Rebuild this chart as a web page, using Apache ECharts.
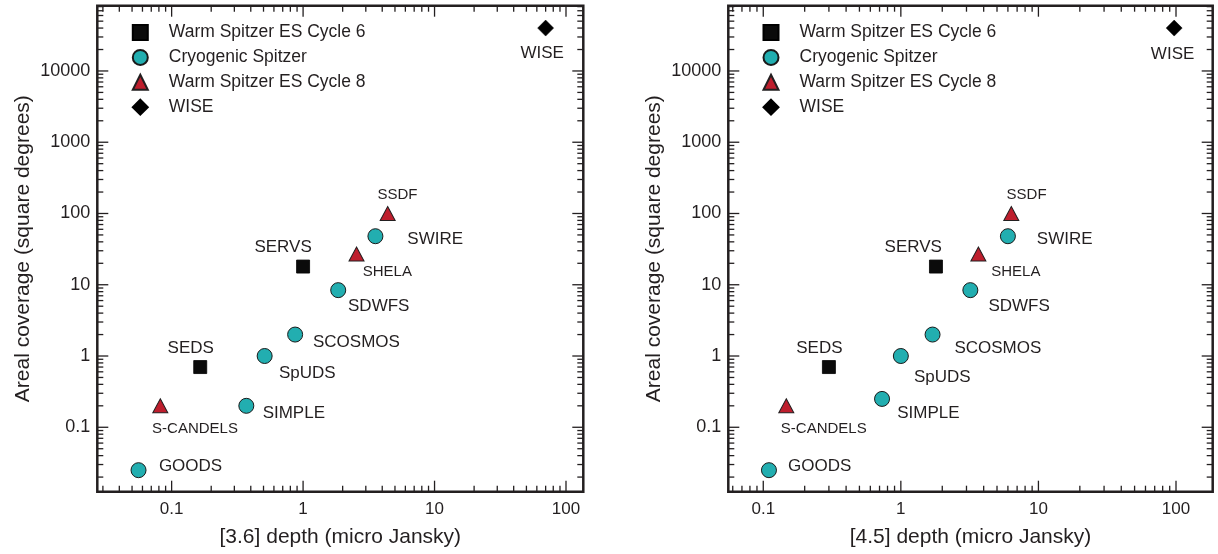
<!DOCTYPE html>
<html>
<head>
<meta charset="utf-8">
<script src="https://cdn.jsdelivr.net/npm/echarts@6/dist/echarts.min.js"></script>
<style>
html,body{margin:0;padding:0;background:#fff;}
#chart{width:1218px;height:554px;}
</style>
</head>
<body>
<div id="chart"></div>
<script>
// ---------------- data ----------------
const seriesNames = ['Warm Spitzer ES Cycle 6', 'Cryogenic Spitzer', 'Warm Spitzer ES Cycle 8', 'WISE'];

const cycle6Names   = ['SERVS', 'SEDS'];
const cycle6Depth36 = [1.0, 0.165];
const cycle6Depth45 = [1.8, 0.30];
const cycle6Area    = [18, 0.7];

const cryoNames   = ['SWIRE', 'SDWFS', 'SCOSMOS', 'SpUDS', 'SIMPLE', 'GOODS'];
const cryoDepth36 = [3.55, 1.85, 0.87, 0.51, 0.37, 0.056];
const cryoDepth45 = [6.0, 3.2, 1.7, 1.0, 0.73, 0.11];
const cryoArea36  = [48, 8.4, 2.0, 1.0, 0.2, 0.025];
const cryoArea45  = [48, 8.4, 2.0, 1.0, 0.25, 0.025];

const cycle8Names   = ['SSDF', 'SHELA', 'S-CANDELS'];
const cycle8Depth36 = [4.4, 2.55, 0.082];
const cycle8Depth45 = [6.35, 3.66, 0.147];
const cycle8Area    = [100, 27, 0.2];

const wiseNames   = ['WISE'];
const wiseDepth36 = [70];
const wiseDepth45 = [97];
const wiseArea    = [40000];

const xTitles = ['[3.6] depth (micro Jansky)', '[4.5] depth (micro Jansky)'];
const yTitle = 'Areal coverage (square degrees)';

// tick values
const xMajorTicks = [0.1, 1, 10, 100];
const yMajorTicks = [0.1, 1, 10, 100, 1000, 10000];
const minorMultipliers = [2, 3, 4, 5, 6, 7, 8, 9];
const decades = [0.01, 0.1, 1, 10, 100, 1000, 10000];

// ---------------- layout (positions / styles) ----------------
const axisRange = [
  {xMin: 0.0272, xMax: 135.4},
  {xMin: 0.0557, xMax: 184.8}
];
const yRange = {min: 0.01247, max: 82400};

const labelOffsets = [
  {WISE:[-3.5,25.6], SSDF:[9.8,-18.3], SWIRE:[59.8,2.7], SHELA:[30.8,17.7], SERVS:[-20,-19],
   SDWFS:[40.5,16.3], SCOSMOS:[61.3,8], SpUDS:[42.7,17.3], SIMPLE:[47.5,7.7], SEDS:[-9.5,-19],
   'S-CANDELS':[34.7,22.8], GOODS:[52,-4.3]},
  {WISE:[-1.6,26], SSDF:[15.3,-18.3], SWIRE:[56.8,2.7], SHELA:[37.5,17.7], SERVS:[-22.7,-19],
   SDWFS:[48.8,16.3], SCOSMOS:[65.3,13.7], SpUDS:[41.5,21], SIMPLE:[46.3,14.4], SEDS:[-9.5,-19],
   'S-CANDELS':[37.5,22.8], GOODS:[50.7,-4.3]}
];
const smallLabels = ['SSDF', 'SHELA', 'S-CANDELS'];

const FONT = '"Liberation Sans", Arial, Helvetica, sans-serif';
const INK = '#231f20';

const symbolStyles = [
  {symbol: 'rect', symbolSize: 13, itemStyle: {color: '#0b0b0b', borderColor: '#000', borderWidth: 0.8, opacity: 1}},
  {symbol: 'circle', symbolSize: 15, itemStyle: {color: '#22aeb0', borderColor: '#1a1a1a', borderWidth: 1, opacity: 1}},
  {symbol: 'triangle', symbolSize: [15, 14], itemStyle: {color: '#be1e2d', borderColor: '#231f20', borderWidth: 1, opacity: 1}},
  {symbol: 'diamond', symbolSize: 16, itemStyle: {color: '#000', borderColor: '#000', borderWidth: 0.5, opacity: 1}}
];

// ---------------- build ----------------
function pts(names, xs, ys, panel) {
  return names.map((n, i) => ({
    name: n,
    value: [xs[i], ys[i]],
    label: {
      show: true,
      formatter: n,
      position: 'inside',
      offset: labelOffsets[panel][n],
      fontSize: smallLabels.includes(n) ? 15 : 17,
      fontFamily: FONT,
      color: INK,
      opacity: 1
    }
  }));
}

const panelData = [
  [pts(cycle6Names, cycle6Depth36, cycle6Area, 0), pts(cryoNames, cryoDepth36, cryoArea36, 0),
   pts(cycle8Names, cycle8Depth36, cycle8Area, 0), pts(wiseNames, wiseDepth36, wiseArea, 0)],
  [pts(cycle6Names, cycle6Depth45, cycle6Area, 1), pts(cryoNames, cryoDepth45, cryoArea45, 1),
   pts(cycle8Names, cycle8Depth45, cycle8Area, 1), pts(wiseNames, wiseDepth45, wiseArea, 1)]
];

function tickData(panel) {
  const r = axisRange[panel];
  const out = [];
  xMajorTicks.forEach(v => out.push([v, 1, 1]));
  decades.forEach(d => minorMultipliers.forEach(m => {
    const v = +(d * m).toPrecision(3);
    if (v > r.xMin && v < r.xMax) out.push([v, 1, 2]);
  }));
  yMajorTicks.forEach(v => out.push([1, v, 3]));
  decades.forEach(d => minorMultipliers.forEach(m => {
    const v = +(d * m).toPrecision(3);
    if (v > yRange.min && v < yRange.max) out.push([1, v, 4]);
  }));
  return out;
}

function renderTicks(params, api) {
  const cs = params.coordSys;
  const kind = api.value(2);
  const p = api.coord([api.value(0), api.value(1)]);
  const len = (kind === 1 || kind === 3) ? 11 : 6;
  const style = {stroke: INK, lineWidth: 1.3};
  if (kind <= 2) {
    const x = p[0];
    const b = cs.y + cs.height, t = cs.y;
    return {type: 'group', children: [
      {type: 'line', shape: {x1: x, y1: b, x2: x, y2: b - len}, style},
      {type: 'line', shape: {x1: x, y1: t, x2: x, y2: t + len}, style}
    ]};
  } else {
    const y = p[1];
    const l = cs.x, rr = cs.x + cs.width;
    return {type: 'group', children: [
      {type: 'line', shape: {x1: l, y1: y, x2: l + len, y2: y}, style},
      {type: 'line', shape: {x1: rr, y1: y, x2: rr - len, y2: y}, style}
    ]};
  }
}

const fmt = v => String(Number((+v).toPrecision(4)));

const grids = [
  {left: 97.3, top: 5.7, width: 486, height: 486},
  {left: 728.3, top: 5.7, width: 484.4, height: 486}
];

const option = {
  backgroundColor: '#fff',
  animation: false,
  textStyle: {fontFamily: FONT},
  grid: grids.map(g => Object.assign({show: true, borderColor: INK, borderWidth: 2.5, backgroundColor: 'transparent'}, g)),
  legend: [0, 1].map(p => ({
    data: seriesNames,
    orient: 'vertical',
    left: p === 0 ? 131.8 : 762.5,
    top: 23.5,
    padding: 0,
    itemWidth: 15,
    itemHeight: 15,
    itemGap: 6.9,
    symbolKeepAspect: true,
    selectedMode: false,
    itemStyle: {opacity: 1},
    textStyle: {fontSize: 17.5, lineHeight: 18, color: INK, fontFamily: FONT, padding: [0, 0, 0, 16]}
  })),
  xAxis: [0, 1].map(p => ({
    type: 'log',
    logBase: 10,
    gridIndex: p,
    min: axisRange[p].xMin,
    max: axisRange[p].xMax,
    splitNumber: 5,
    name: xTitles[p],
    nameLocation: 'middle',
    nameGap: 35,
    nameTextStyle: {fontSize: 21, color: INK, fontFamily: FONT},
    axisLine: {show: false},
    axisTick: {show: false},
    splitLine: {show: false},
    minorTick: {show: false},
    axisLabel: {formatter: fmt, fontSize: 17, color: INK, margin: 9, showMinLabel: false, showMaxLabel: false, fontFamily: FONT}
  })),
  yAxis: [0, 1].map(p => ({
    type: 'log',
    logBase: 10,
    gridIndex: p,
    min: yRange.min,
    max: yRange.max,
    splitNumber: 5,
    name: yTitle,
    nameLocation: 'middle',
    nameGap: 64,
    nameTextStyle: {fontSize: 21, color: INK, fontFamily: FONT},
    axisLine: {show: false},
    axisTick: {show: false},
    splitLine: {show: false},
    minorTick: {show: false},
    axisLabel: {formatter: fmt, fontSize: 18, color: INK, margin: 7, showMinLabel: false, showMaxLabel: false, fontFamily: FONT}
  })),
  series: []
};

[0, 1].forEach(p => {
  option.series.push({
    type: 'custom',
    name: 'ticks' + p,
    xAxisIndex: p,
    yAxisIndex: p,
    silent: true,
    z: 1,
    encode: {x: 0, y: 1},
    data: tickData(p),
    renderItem: renderTicks
  });
  seriesNames.forEach((n, i) => {
    option.series.push(Object.assign({
      type: 'scatter',
      name: n,
      xAxisIndex: p,
      yAxisIndex: p,
      z: 3,
      data: panelData[p][i]
    }, symbolStyles[i]));
  });
});

const chart = echarts.init(document.getElementById('chart'), null, {renderer: 'canvas'});
chart.setOption(option);
</script>
</body>
</html>
